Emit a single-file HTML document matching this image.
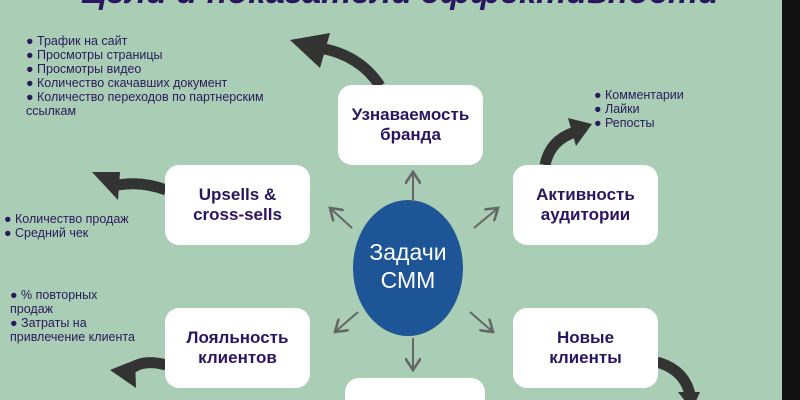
<!DOCTYPE html>
<html style="margin:0;width:800px;height:400px;overflow:hidden"><head><meta charset="utf-8"><style>
body{margin:0;width:800px;height:400px;overflow:hidden;background:#a9cdb5;position:relative;font-family:"Liberation Sans","DejaVu Sans",sans-serif;color:#2a1a5a}
.bar{position:absolute;left:782px;top:0;width:18px;height:400px;background:#111}
.box{position:absolute;width:145px;height:80px;background:#fff;border-radius:14px;display:flex;align-items:center;justify-content:center;text-align:center;font-weight:bold;font-size:17px;line-height:20px;color:#2a1560}
.t{position:absolute;font-size:12.5px;line-height:14px;color:#2a1a5a}
.title{position:absolute;left:0;width:800px;text-align:center;top:-27px;font-size:34px;font-weight:bold;font-style:italic;color:#2a1560;white-space:nowrap}
</style></head><body>
<div class="title">Цели и показатели эффективности</div>
<svg width="800" height="400" style="position:absolute;left:0;top:0">
<defs><marker id="a" markerWidth="8" markerHeight="8" refX="6" refY="4" orient="auto"><path d="M0,0 L6,4 L0,8" fill="none" stroke="#666" stroke-width="1.3"/></marker></defs>
<ellipse cx="408" cy="268" rx="55" ry="68" fill="#1d5596"/>
<g stroke="#666" stroke-width="2" marker-end="url(#a)">
<line x1="413" y1="202" x2="413" y2="172"/>
<line x1="352" y1="228" x2="330" y2="208"/>
<line x1="474" y1="228" x2="498" y2="208"/>
<line x1="358" y1="312" x2="335" y2="332"/>
<line x1="470" y1="312" x2="493" y2="332"/>
<line x1="413" y1="338" x2="413" y2="370"/>
</g>
<g fill="none" stroke="#333" stroke-width="11">
<path d="M380,86 Q360,55 320,48"/>
<path d="M166,190 Q140,180 112,186"/>
<path d="M545,165 Q550,140 575,132"/>
<path d="M166,365 Q140,358 128,372"/>
<path d="M657,362 Q685,370 690,395"/>
</g>
<g fill="#333">
<polygon points="290,40 330,33 320,68"/>
<polygon points="92,172 120,172 118,200"/>
<polygon points="592,124 568,118 576,146"/>
<polygon points="110,370 135,360 136,388"/>
<polygon points="678,392 700,392 692,410"/>
</g>
</svg>
<div class="box" style="left:338px;top:85px">Узнаваемость<br>бранда</div>
<div class="box" style="left:165px;top:165px">Upsells &amp;<br>cross-sells</div>
<div class="box" style="left:513px;top:165px">Активность<br>аудитории</div>
<div class="box" style="left:165px;top:308px">Лояльность<br>клиентов</div>
<div class="box" style="left:513px;top:308px">Новые<br>клиенты</div>
<div class="box" style="left:345px;top:378px;width:140px;height:22px;border-radius:14px 14px 0 0"></div>
<div style="position:absolute;left:352px;top:238px;width:112px;text-align:center;color:#fff;font-size:23px;line-height:28px">Задачи<br>СММ</div>
<div class="t" style="left:26px;top:34px">● Трафик на сайт<br>● Просмотры страницы<br>● Просмотры видео<br>● Количество скачавших документ<br>● Количество переходов по партнерским<br>ссылкам</div>
<div class="t" style="left:594px;top:88px">● Комментарии<br>● Лайки<br>● Репосты</div>
<div class="t" style="left:4px;top:212px">● Количество продаж<br>● Средний чек</div>
<div class="t" style="left:10px;top:288px">● % повторных<br>продаж<br>● Затраты на<br>привлечение клиента</div>
<div class="bar"></div>
</body></html>
